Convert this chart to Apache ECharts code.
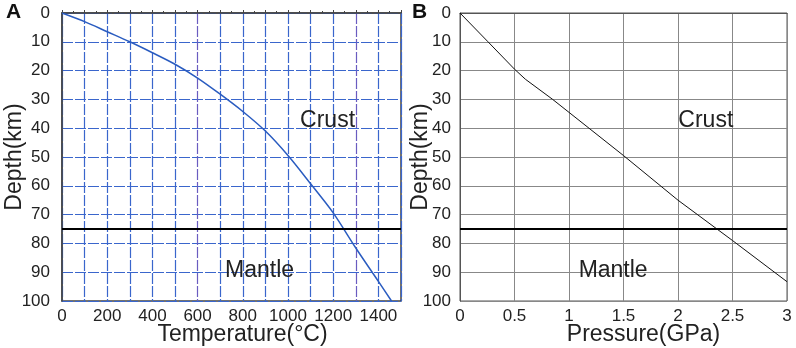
<!DOCTYPE html>
<html>
<head>
<meta charset="utf-8">
<script src="https://cdn.jsdelivr.net/npm/echarts@6/dist/echarts.min.js"></script>
<style>
  html, body { margin: 0; padding: 0; background: #fff; }
  #chart { width: 796px; height: 348px; }
</style>
</head>
<body>
<div id="chart"></div>
<script>
  // panel A: temperature (°C) vs depth (km)
  var tempValues = [0, 100, 200, 300, 400, 500, 600, 700, 800, 900, 1000, 1100, 1200, 1300, 1400, 1458];
  var tempDepths = [0, 3, 6.5, 10, 13.8, 17.8, 22.6, 28.2, 34.2, 41, 49.5, 59.3, 69.4, 81.6, 93.2, 100];
  // panel B: pressure (GPa) vs depth (km)
  var pressValues = [0, 0.257, 0.5, 0.6, 0.85, 1.5, 2, 2.5, 3];
  var pressDepths = [0, 10, 19.5, 23, 30, 49.5, 65, 79, 93.3];
  var mohoDepth = 75;
  var tempTickLabels = [0, 200, 400, 600, 800, 1000, 1200, 1400];

  var chart = echarts.init(document.getElementById('chart'));
  var font = 'Liberation Sans, Arial, sans-serif';

  function pairs(xs, ys) {
    return xs.map(function (x, i) { return [x, ys[i]]; });
  }

  // vertical grid colours of panel A: a couple of lines look purple in the original
  var blue = '#3a66cc', purple = '#6a5cc0';
  var vLineColors = [];
  for (var i = 0; i <= 15; i++) vLineColors.push(i === 6 || i === 13 ? purple : blue);

  var nameStyle = { fontSize: 23, color: '#222', fontFamily: font };
  var labelStyle = { fontSize: 17, color: '#222', fontFamily: font };

  function annot(x, y, text) {
    return { coord: [x, y], value: text };
  }

  chart.setOption({
    animation: false,
    graphic: [
      { type: 'text', left: 6, top: 2, style: { text: 'A', font: 'bold 21px ' + font, fill: '#111' } },
      { type: 'text', left: 412, top: 2, style: { text: 'B', font: 'bold 21px ' + font, fill: '#111' } }
    ],
    grid: [
      { left: 62, top: 13, width: 339, height: 288, show: true, borderColor: '#444', borderWidth: 1.5,
        containLabel: false, outerBoundsMode: 'none' },
      { left: 460, top: 13, width: 327, height: 288, show: true, borderColor: '#555', borderWidth: 1,
        containLabel: false, outerBoundsMode: 'none' }
    ],
    xAxis: [
      {
        type: 'value', gridIndex: 0, min: 0, max: 1500, interval: 100,
        name: 'Temperature(°C)', nameLocation: 'middle', nameGap: 22, nameMoveOverlap: false,
        nameTextStyle: Object.assign({ padding: [0, 0, 0, 22] }, nameStyle),
        axisLine: { show: true, lineStyle: { color: '#444', width: 1.5 } },
        axisTick: { show: true, inside: true, length: 3, lineStyle: { color: '#444' } },
        minorTick: { show: true, splitNumber: 2, length: 2, lineStyle: { color: '#444' } },
        axisLabel: Object.assign({
          margin: 7,
          formatter: function (v) { return tempTickLabels.indexOf(v) >= 0 ? String(v) : ''; }
        }, labelStyle),
        splitLine: { show: true, lineStyle: { color: vLineColors, width: 1.2, type: [11, 2] } }
      },
      {
        type: 'value', gridIndex: 1, min: 0, max: 3, interval: 0.5,
        name: 'Pressure(GPa)', nameLocation: 'middle', nameGap: 22, nameMoveOverlap: false,
        nameTextStyle: Object.assign({ padding: [0, 0, 0, 40] }, nameStyle),
        axisLine: { show: true, lineStyle: { color: '#555', width: 1 } },
        axisTick: { show: false },
        axisLabel: Object.assign({ margin: 7 }, labelStyle),
        splitLine: { show: true, lineStyle: { color: '#888', width: 1 } }
      }
    ],
    yAxis: [
      {
        type: 'value', gridIndex: 0, inverse: true, min: 0, max: 100, interval: 10,
        name: 'Depth(km)', nameLocation: 'middle', nameGap: 36, nameMoveOverlap: false,
        nameTextStyle: nameStyle,
        axisLine: { show: true, lineStyle: { color: '#444', width: 1.5 } },
        axisTick: { show: false },
        axisLabel: Object.assign({ margin: 12 }, labelStyle),
        splitLine: { show: true, lineStyle: { color: blue, width: 1.2, type: [11, 2] } }
      },
      {
        type: 'value', gridIndex: 1, inverse: true, min: 0, max: 100, interval: 10,
        name: 'Depth(km)', nameLocation: 'middle', nameGap: 28, nameMoveOverlap: false,
        nameTextStyle: nameStyle,
        axisLine: { show: true, lineStyle: { color: '#555', width: 1 } },
        axisTick: { show: false },
        axisLabel: Object.assign({ margin: 9 }, labelStyle),
        splitLine: { show: true, lineStyle: { color: '#888', width: 1 } }
      }
    ],
    series: [
      {
        type: 'line', xAxisIndex: 0, yAxisIndex: 0,
        data: pairs(tempValues, tempDepths),
        smooth: 0.3, showSymbol: false,
        lineStyle: { color: '#2a5cc0', width: 1.5 },
        markLine: {
          silent: true, symbol: 'none', label: { show: false },
          lineStyle: { color: '#000', width: 2, type: 'solid' },
          data: [{ yAxis: mohoDepth }]
        },
        markPoint: {
          symbolSize: 0,
          label: { show: true, formatter: '{c}', fontSize: 23, color: '#222', fontFamily: font },
          data: [annot(1175, 37.5, 'Crust'), annot(874, 89.4, 'Mantle')]
        }
      },
      {
        type: 'line', xAxisIndex: 1, yAxisIndex: 1,
        data: pairs(pressValues, pressDepths),
        showSymbol: false,
        lineStyle: { color: '#111', width: 1 },
        markLine: {
          silent: true, symbol: 'none', label: { show: false },
          lineStyle: { color: '#000', width: 2, type: 'solid' },
          data: [{ yAxis: mohoDepth }]
        },
        markPoint: {
          symbolSize: 0,
          label: { show: true, formatter: '{c}', fontSize: 23, color: '#222', fontFamily: font },
          data: [annot(2.255, 37.5, 'Crust'), annot(1.405, 89.4, 'Mantle')]
        }
      }
    ]
  });
</script>
</body>
</html>
